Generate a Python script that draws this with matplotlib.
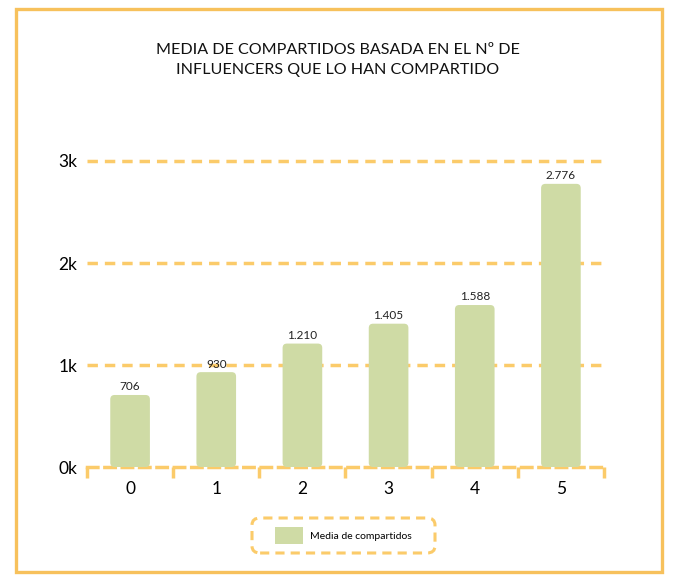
import matplotlib
matplotlib.use("Agg")
import matplotlib.pyplot as plt
from matplotlib.patches import FancyBboxPatch, Rectangle

categories = ["0", "1", "2", "3", "4", "5"]
values = [706, 930, 1210, 1405, 1588, 2776]
value_labels = ["706", "930", "1.210", "1.405", "1.588", "2.776"]
ytick_vals = [0, 1000, 2000, 3000]
ytick_labels = ["0k", "1k", "2k", "3k"]
title = "MEDIA DE COMPARTIDOS BASADA EN EL Nº DE\nINFLUENCERS QUE LO HAN COMPARTIDO"
series_name = "Media de compartidos"

ORANGE = "#FBCB6A"
BORDER = "#F7C15C"
GREEN = "#CFDBA5"

plt.rcParams['font.family'] = ['Lato', 'DejaVu Sans']

W, H = 675, 580
fig = plt.figure(figsize=(W/100, H/100), dpi=100)

# outer border
fig.patches.append(Rectangle((16/W, 1-572/H), (662-16)/W, (572-9)/H,
                             transform=fig.transFigure, fill=False,
                             edgecolor=BORDER, linewidth=2.4))

ax = fig.add_axes([87/W, 1-467/H, (604-87)/W, (467-161)/H])
x = list(range(len(categories)))
bars = ax.bar(x, values, width=0.46, color=GREEN, alpha=0)
px_per_x = (604-87)/len(categories)
px_per_y = (467-161)/3000
for b in bars:
    p = FancyBboxPatch((b.get_x(), 0), b.get_width(), b.get_height(),
                       boxstyle="round,pad=0,rounding_size=0.05",
                       mutation_aspect=px_per_x/px_per_y,
                       facecolor=GREEN, edgecolor="none", zorder=3)
    ax.add_patch(p)

for xi, v, lab in zip(x, values, value_labels):
    ax.text(xi, v + 25, lab, ha="center", va="bottom", fontsize=8.5, color="#222222", zorder=4)

ax.set_xlim(-0.5, len(categories)-0.5)
ax.set_ylim(0, 3000)
for sp in ["top", "right", "left"]:
    ax.spines[sp].set_visible(False)
ax.spines["bottom"].set_color(ORANGE)
ax.spines["bottom"].set_linewidth(2.5)
ax.spines["bottom"].set_linestyle((0, (3, 2)))

for yv in ytick_vals[1:]:
    ax.axhline(yv, color=ORANGE, lw=2.5, ls=(0, (3, 2)), clip_on=False, zorder=1)

ax.set_yticks(ytick_vals)
ax.set_yticklabels(ytick_labels, fontsize=12.5)
ax.tick_params(axis="y", length=0, pad=7)

ax.set_xticks(x)
ax.set_xticklabels(categories, fontsize=12.5)
ax.set_xticks([i - 0.5 for i in range(len(categories)+1)], minor=True)
ax.tick_params(axis="x", which="major", length=0, pad=10)
ax.tick_params(axis="x", which="minor", length=8, width=2.5, color=ORANGE, direction="out")

fig.text(0.5, 1-60/H, title, ha="center", va="center", fontsize=11.6,
         linespacing=1.6, color="#111111")

# legend frame (dashed rounded box)
lx0, lx1, ly0, ly1 = 252, 435, 518, 553
fig.patches.append(FancyBboxPatch((lx0/W, 1-ly1/H), (lx1-lx0)/W, (ly1-ly0)/H,
                                  boxstyle="round,pad=0,rounding_size=0.012",
                                  transform=fig.transFigure, fill=False,
                                  edgecolor=ORANGE, linewidth=2.2,
                                  linestyle=(0, (3, 2))))
handle = FancyBboxPatch((0, 0), 1, 1, boxstyle="round,pad=0,rounding_size=0.1",
                        facecolor=GREEN, edgecolor="none")
leg = fig.legend([Rectangle((0, 0), 1, 1, facecolor=GREEN, edgecolor="none")],
                 [series_name], loc="center",
                 bbox_to_anchor=((lx0+lx1)/2/W, 1-(ly0+ly1)/2/H), fontsize=7.5,
                 frameon=False, handlelength=2.7, handleheight=2.2,
                 borderpad=0, handletextpad=0.7, borderaxespad=0)

fig.savefig("out.png", dpi=100)
